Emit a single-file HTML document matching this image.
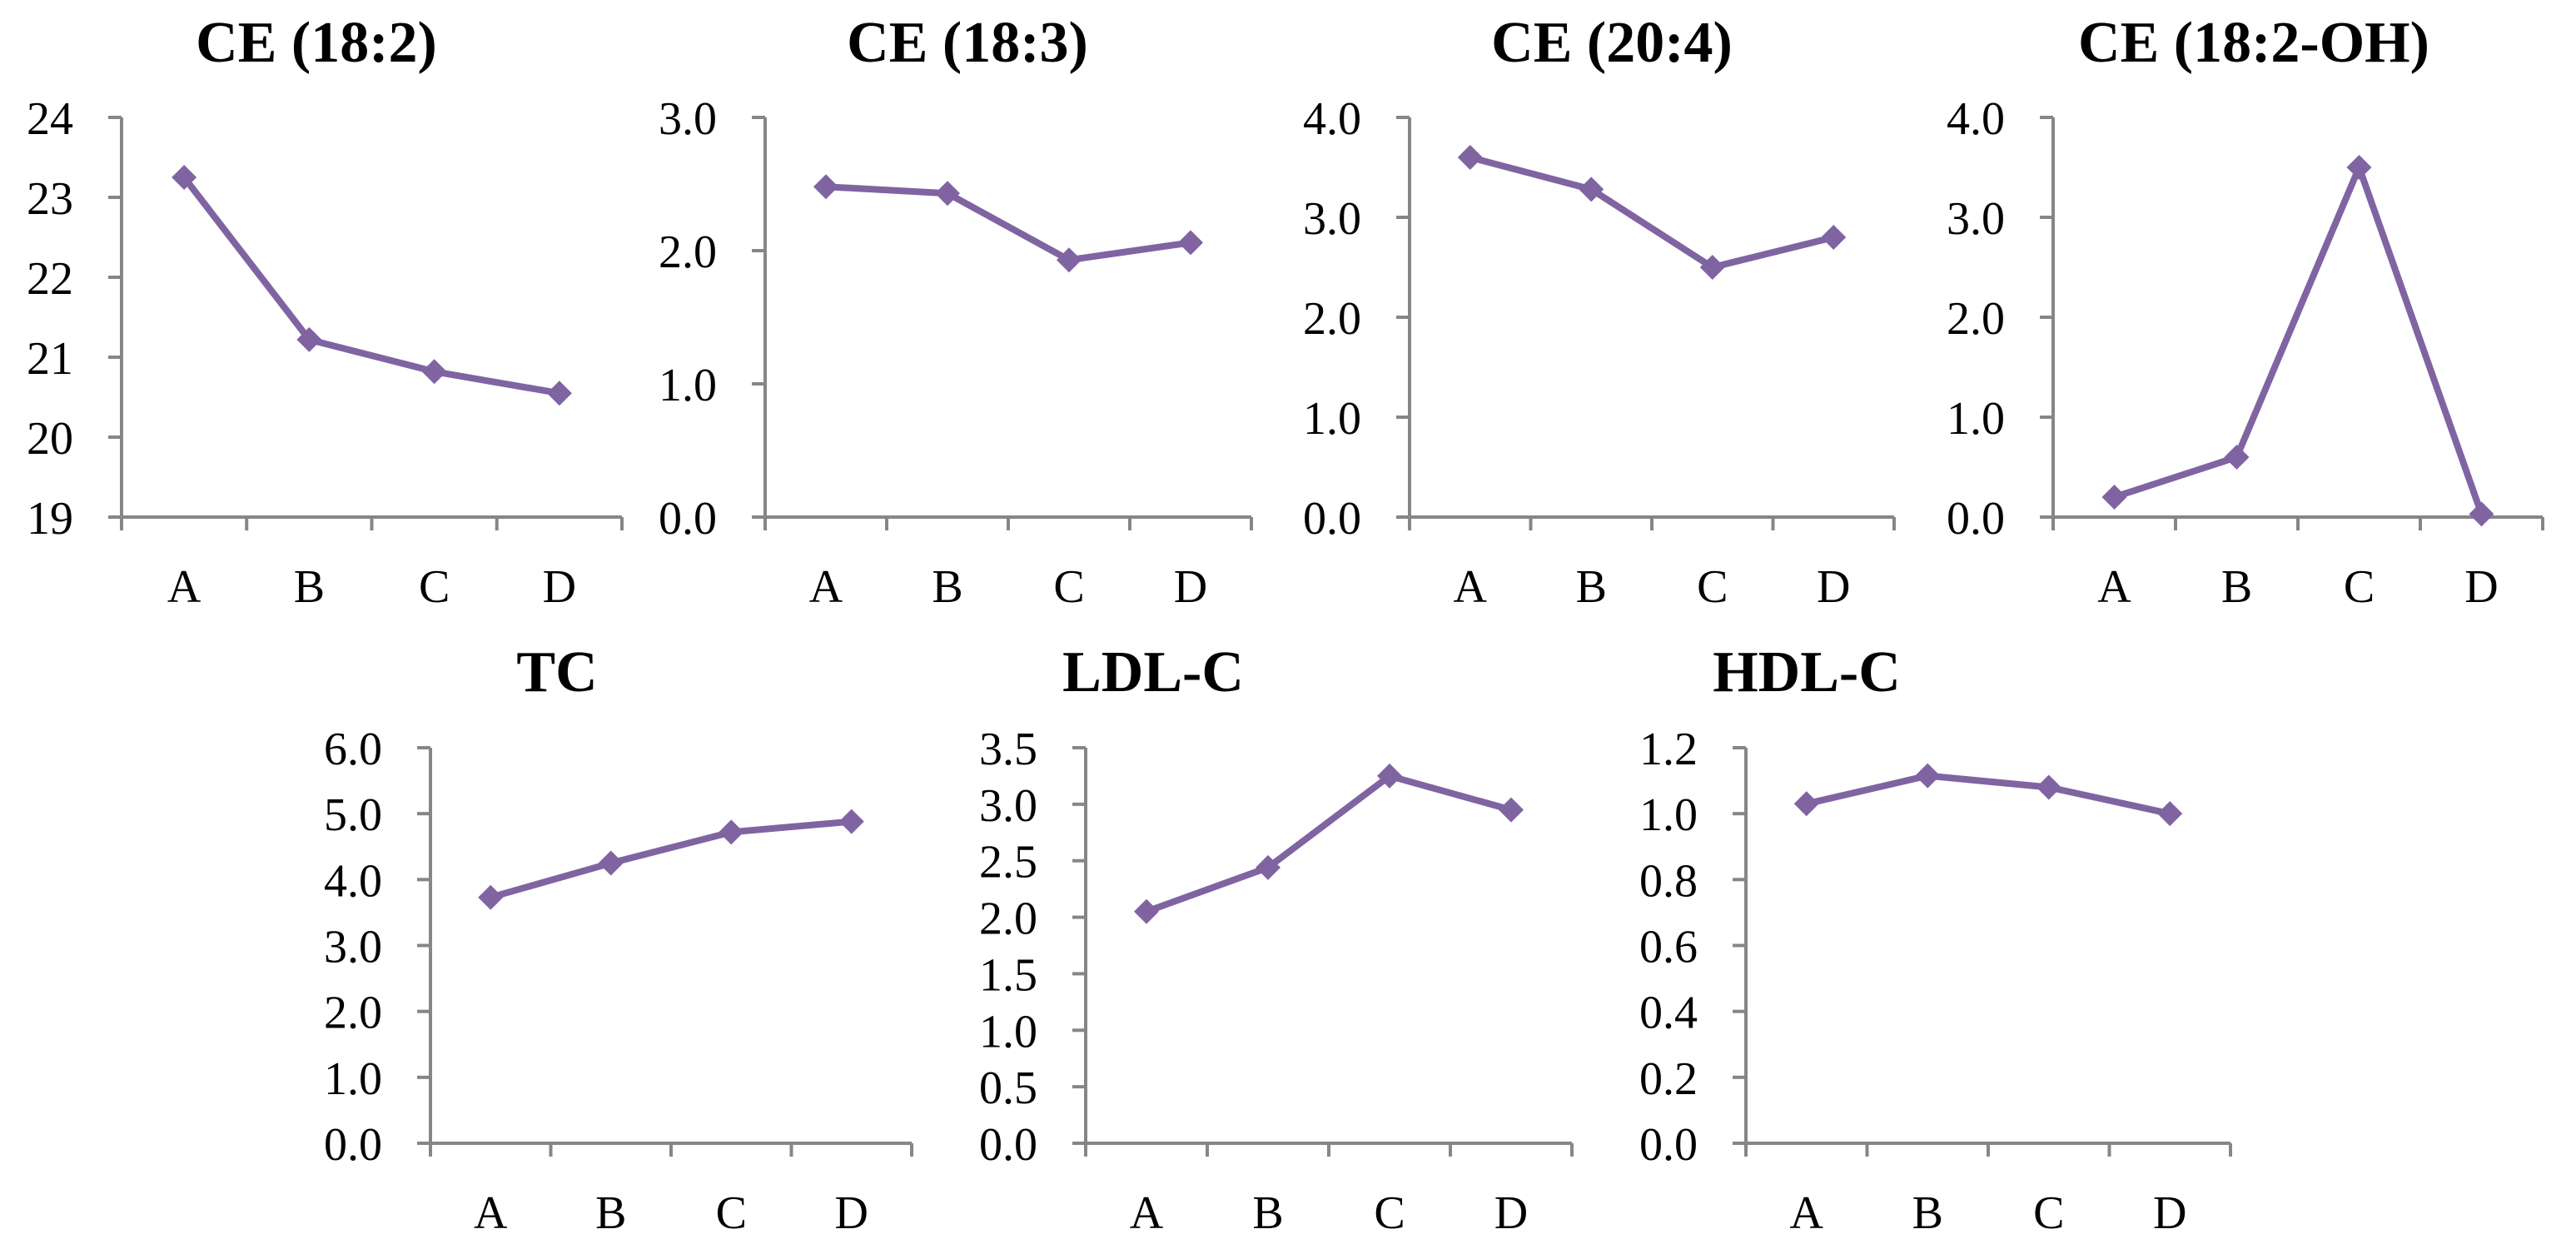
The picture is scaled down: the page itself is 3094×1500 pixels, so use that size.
<!DOCTYPE html>
<html><head><meta charset="utf-8"><style>
html,body{margin:0;padding:0;background:#fff;}
svg{display:block;font-family:"Liberation Serif",serif;}
</style></head><body>
<svg id="chart" width="3094" height="1500" viewBox="0 0 3094 1500" xmlns="http://www.w3.org/2000/svg"></svg>
<script>
const categories = ["A","B","C","D"];
const titles = ["CE (18:2)","CE (18:3)","CE (20:4)","CE (18:2-OH)","TC","LDL-C","HDL-C"];
const ce182 = [23.25, 21.22, 20.82, 20.55];
const ce183 = [2.48, 2.43, 1.93, 2.06];
const ce204 = [3.6, 3.28, 2.5, 2.8];
const ce182oh = [0.2, 0.6, 3.5, 0.03];
const tc = [3.73, 4.25, 4.72, 4.88];
const ldlc = [2.05, 2.44, 3.25, 2.95];
const hdlc = [1.03, 1.115, 1.08, 1.0];
const ticks1 = ["19","20","21","22","23","24"];
const ticks2 = ["0.0","1.0","2.0","3.0"];
const ticks3 = ["0.0","1.0","2.0","3.0","4.0"];
const ticks4 = ["0.0","1.0","2.0","3.0","4.0"];
const ticks5 = ["0.0","1.0","2.0","3.0","4.0","5.0","6.0"];
const ticks6 = ["0.0","0.5","1.0","1.5","2.0","2.5","3.0","3.5"];
const ticks7 = ["0.0","0.2","0.4","0.6","0.8","1.0","1.2"];

const series = [ce182, ce183, ce204, ce182oh, tc, ldlc, hdlc];
const tickSets = [ticks1, ticks2, ticks3, ticks4, ticks5, ticks6, ticks7];
const layout = [
  {x0:146,x1:747,top:141,bot:621,tx:380,ty:74},
  {x0:919,x1:1503,top:141,bot:621,tx:1162,ty:74},
  {x0:1693,x1:2275,top:141,bot:621,tx:1936,ty:74},
  {x0:2466,x1:3054,top:141,bot:621,tx:2707,ty:74},
  {x0:517,x1:1095,top:898,bot:1373,tx:669,ty:830},
  {x0:1304,x1:1888,top:898,bot:1373,tx:1385,ty:830},
  {x0:2097,x1:2679,top:898,bot:1373,tx:2170,ty:830}
];
const NS = "http://www.w3.org/2000/svg";
const svg = document.getElementById("chart");
function mk(tag, attrs, parent){
  const e = document.createElementNS(NS, tag);
  for (const k in attrs) e.setAttribute(k, attrs[k]);
  parent.appendChild(e);
  return e;
}
const slug = ["ce-18-2","ce-18-3","ce-20-4","ce-18-2-oh","tc","ldl-c","hdl-c"];
for (let i = 0; i < 7; i++) {
  const L = layout[i], data = series[i], tk = tickSets[i];
  const g = mk("g", {}, svg);
  
  
  const ymin = parseFloat(tk[0]), ymax = parseFloat(tk[tk.length-1]);
  const yScale = v => L.bot - (v - ymin) / (ymax - ymin) * (L.bot - L.top);
  const step = (L.x1 - L.x0) / categories.length;
  const xScale = j => L.x0 + step * (j + 0.5);
  const t = mk("text", {x:L.tx, y:L.ty, "text-anchor":"middle", "font-size":"70", "font-weight":"bold", fill:"#000"}, g);
  t.textContent = titles[i];
  
  
  const ya = mk("line", {x1:L.x0, y1:L.top, x2:L.x0, y2:L.bot, stroke:"#868686", "stroke-width":"4"}, g);
  
  
  tk.forEach(lbl => {
    const y = yScale(parseFloat(lbl));
    mk("line", {x1:L.x0-16, y1:y, x2:L.x0, y2:y, stroke:"#868686", "stroke-width":"4"}, g);
    const tt = mk("text", {x:L.x0-58, y:y+20, "text-anchor":"end", "font-size":"56", fill:"#000"}, g);
    tt.textContent = lbl;
    
    
  });
  const xa = mk("line", {x1:L.x0-16, y1:L.bot, x2:L.x1, y2:L.bot, stroke:"#868686", "stroke-width":"4"}, g);
  
  
  for (let j = 0; j <= categories.length; j++) {
    const x = L.x0 + step * j;
    mk("line", {x1:x, y1:L.bot, x2:x, y2:L.bot+16, stroke:"#868686", "stroke-width":"4"}, g);
  }
  categories.forEach((c, j) => {
    const ct = mk("text", {x:xScale(j), y:L.bot+102, "text-anchor":"middle", "font-size":"56", fill:"#000"}, g);
    ct.textContent = c;
    
    
  });
  const pts = data.map((v, j) => xScale(j) + "," + yScale(v)).join(" ");
  const pl = mk("polyline", {points:pts, fill:"none", stroke:"#8064A2", "stroke-width":"8", "stroke-linejoin":"round"}, g);
  
  
  data.forEach((v, j) => {
    const x = xScale(j), y = yScale(v), r = 15;
    const m = mk("polygon", {points:`${x},${y-r} ${x+r},${y} ${x},${y+r} ${x-r},${y}`, fill:"#8064A2"}, g);
    
    
  });
}
</script>
</body></html>
